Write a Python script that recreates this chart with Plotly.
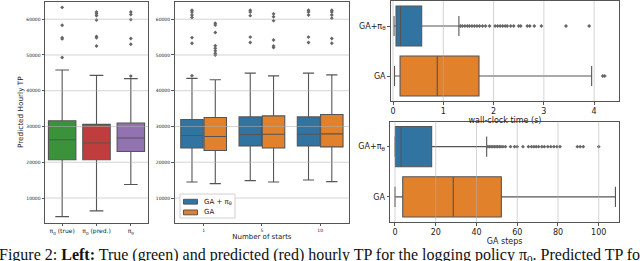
import plotly.graph_objects as go

# ---------------- data ----------------
# Panel 1: Predicted hourly TP per policy
p1_labels = ["π<sub>0</sub> (true)", "π<sub>0</sub> (pred.)", "π<sub>θ</sub>"]
p1_colors = ["#3a923a", "#c03d3e", "#9372b2"]
p1_q1 = [20700, 20700, 23000]
p1_med = [26300, 25400, 26800]
p1_q3 = [31600, 30600, 31000]
p1_lo = [4800, 6400, 13800]
p1_hi = [45800, 44300, 43400]
p1_out = [
    [63300, 58300, 54800, 54500, 49300],
    [62000, 61500, 61000, 59800, 55200, 54800, 52500],
    [62000, 61300, 59900, 54600, 53000, 44100],
]

# Panel 2: number of starts, GA + pi_theta vs GA
p2_starts = ["1", "5", "10"]
p2_names = ["GA + π<sub>θ</sub>", "GA"]
p2_colors = ["#3274a1", "#e1812c"]
p2_q1 = [[24000, 24570, 24570], [23280, 24000, 24290]]
p2_med = [[27480, 27760, 27840], [27200, 27840, 27930]]
p2_q3 = [[31960, 32690, 32690], [32520, 32970, 33340]]
p2_lo = [[14480, 14870, 15060], [14030, 14480, 14590]]
p2_hi = [[43470, 44930, 44930], [43080, 44170, 44450]]
p2_out = [
    [[62500, 62000, 61200, 60500, 54850, 53300, 44200],
     [62500, 62000, 61000, 55000, 53500],
     [62500, 62000, 61200, 55000, 53500]],
    [[58900, 58400, 56300, 52600, 51900, 51200, 50500, 50000],
     [61500, 60700, 59600, 54200, 52500, 52100],
     [62500, 62000, 61200, 60300, 54600, 53300]],
]

y_ticks = [10000, 20000, 30000, 40000, 50000, 60000]

# Panel 3: wall-clock time (s)
rt_labels = ["GA+π<sub>θ</sub>", "GA"]
p3_q1 = [0.06, 0.14]
p3_med = [0.15, 0.88]
p3_q3 = [0.57, 1.71]
p3_lo = [0.02, 0.03]
p3_hi = [1.31, 3.95]
p3_out = [
    [1.34, 1.38, 1.43, 1.48, 1.52, 1.57, 1.62, 1.67, 1.72, 1.78, 1.84, 1.92,
     2.03, 2.08, 2.13, 2.18, 2.23, 2.27, 2.34, 2.40, 2.50, 2.54, 2.67, 2.72,
     2.81, 2.95, 3.44, 3.90],
    [4.17, 4.21],
]
p3_ticks = [0, 1, 2, 3, 4]

# Panel 4: GA steps
p4_q1 = [0.2, 3.8]
p4_med = [3.0, 28.6]
p4_q3 = [18.0, 52.2]
p4_lo = [0.0, 0.0]
p4_hi = [45.0, 108.2]
p4_out = [
    [45.6, 46.4, 47.2, 48.0, 48.8, 49.6, 50.4, 51.2, 52.0, 53.0, 54.2, 56.7,
     58.7, 60.0, 62.8, 65.5, 67.0, 68.2, 69.3, 70.5, 72.1, 73.3, 75.0, 76.5,
     78.0, 79.5, 81.0, 89.5, 90.9, 92.4, 100.0],
    [],
]
p4_ticks = [0, 20, 40, 60, 80, 100]

caption = ("Figure 2: <b>Left:</b> True (green) and predicted (red) hourly TP for "
           "the logging policy π<sub>0</sub>. Predicted TP for")

# ---------------- style ----------------
GRAY = "#555555"
AXC = "#555555"
GRID = "rgba(176,176,176,0.55)"
FONT = "DejaVu Sans"
TXT = "#222222"
W, H = 640, 261


def px_x(a, b):
    return [a / W, b / W]


def px_y(top, bottom):
    return [1 - bottom / H, 1 - top / H]


fig = go.Figure()

flier = dict(symbol="diamond", size=3, color="#666666", line=dict(width=0))

# Panel 1
for i, lab in enumerate(p1_labels):
    fig.add_trace(go.Box(
        x=[i], q1=[p1_q1[i]], median=[p1_med[i]], q3=[p1_q3[i]],
        lowerfence=[p1_lo[i]], upperfence=[p1_hi[i]], width=0.8,
        fillcolor=p1_colors[i], line=dict(color=GRAY, width=1.1),
        whiskerwidth=0.5, boxpoints=False, showlegend=False,
        xaxis="x", yaxis="y"))
    fig.add_trace(go.Scatter(
        x=[i] * len(p1_out[i]), y=p1_out[i], mode="markers", marker=flier,
        showlegend=False, xaxis="x", yaxis="y", hoverinfo="skip"))

# Panel 2
offsets = [-0.2, 0.2]
for h, name in enumerate(p2_names):
    for c in range(len(p2_starts)):
        pos = c + offsets[h]
        fig.add_trace(go.Box(
            x=[pos], q1=[p2_q1[h][c]], median=[p2_med[h][c]], q3=[p2_q3[h][c]],
            lowerfence=[p2_lo[h][c]], upperfence=[p2_hi[h][c]], width=0.385,
            fillcolor=p2_colors[h], line=dict(color=GRAY, width=1.1),
            whiskerwidth=0.5, boxpoints=False, name=name,
            showlegend=False, xaxis="x2", yaxis="y2"))
        fig.add_trace(go.Scatter(
            x=[pos] * len(p2_out[h][c]), y=p2_out[h][c], mode="markers",
            marker=flier, showlegend=False, xaxis="x2", yaxis="y2",
            hoverinfo="skip"))

# Panel 3 (horizontal)
for i in range(len(rt_labels)):
    fig.add_trace(go.Box(
        y=[i], orientation="h", q1=[p3_q1[i]], median=[p3_med[i]], q3=[p3_q3[i]],
        lowerfence=[p3_lo[i]], upperfence=[p3_hi[i]], width=0.8,
        fillcolor=p2_colors[i], line=dict(color=GRAY, width=1.1),
        whiskerwidth=0.5, boxpoints=False, showlegend=False,
        xaxis="x3", yaxis="y3"))
    if p3_out[i]:
        fig.add_trace(go.Scatter(
            x=p3_out[i], y=[i] * len(p3_out[i]), mode="markers", marker=flier,
            showlegend=False, xaxis="x3", yaxis="y3", hoverinfo="skip"))

# Panel 4 (horizontal)
for i in range(len(rt_labels)):
    fig.add_trace(go.Box(
        y=[i], orientation="h", q1=[p4_q1[i]], median=[p4_med[i]], q3=[p4_q3[i]],
        lowerfence=[p4_lo[i]], upperfence=[p4_hi[i]], width=0.8,
        fillcolor=p2_colors[i], line=dict(color=GRAY, width=1.1),
        whiskerwidth=0.5, boxpoints=False, showlegend=False,
        xaxis="x4", yaxis="y4"))
    if p4_out[i]:
        fig.add_trace(go.Scatter(
            x=p4_out[i], y=[i] * len(p4_out[i]), mode="markers", marker=flier,
            showlegend=False, xaxis="x4", yaxis="y4", hoverinfo="skip"))

# gridlines drawn above box fills (matplotlib style)
shapes = []
for ax in ["", "2"]:
    for v in y_ticks:
        shapes.append(dict(type="line", xref=f"x{ax} domain", yref=f"y{ax}",
                           x0=0, x1=1, y0=v, y1=v, layer="above",
                           line=dict(color=GRID, width=1)))
for ax, ticks in [("3", p3_ticks), ("4", p4_ticks)]:
    for v in ticks:
        shapes.append(dict(type="line", yref=f"y{ax} domain", xref=f"x{ax}",
                           y0=0, y1=1, x0=v, x1=v, layer="above",
                           line=dict(color=GRID, width=1)))

# matplotlib-style legend inside panel 2 (frame, patches, labels)
LEG_X0, LEG_X1, LEG_Y0, LEG_Y1 = 180, 235, 194, 218
shapes.append(dict(type="rect", xref="paper", yref="paper",
                   x0=LEG_X0 / W, x1=LEG_X1 / W,
                   y0=1 - LEG_Y1 / H, y1=1 - LEG_Y0 / H, layer="above",
                   fillcolor="white", line=dict(color="#d0d0d0", width=1)))
annotations = []
for k, name in enumerate(p2_names):
    yc = 201.7 + k * 10.7
    shapes.append(dict(type="rect", xref="paper", yref="paper",
                       x0=183.5 / W, x1=197.5 / W,
                       y0=1 - (yc + 2.4) / H, y1=1 - (yc - 2.4) / H,
                       layer="above", fillcolor=p2_colors[k],
                       line=dict(color=GRAY, width=1)))
    annotations.append(dict(text=name, xref="paper", yref="paper",
                            x=201.5 / W, y=1 - yc / H, xanchor="left",
                            yanchor="middle", showarrow=False,
                            font=dict(size=7, family=FONT, color=TXT)))

annotations.append(dict(
    text=caption, xref="paper", yref="paper", x=-3 / W, y=1 - 244 / H,
    xanchor="left", yanchor="top", showarrow=False, align="left",
    font=dict(family="Liberation Serif", size=16, color="#111111")))

common = dict(showline=True, mirror=True, linecolor=AXC, linewidth=1,
              ticks="outside", ticklen=2.5, tickcolor=AXC, tickwidth=1,
              showgrid=False, zeroline=False, fixedrange=True)

fig.update_layout(
    template="none",
    width=W, height=H,
    margin=dict(l=0, r=0, t=0, b=0, pad=0),
    paper_bgcolor="white", plot_bgcolor="white",
    font=dict(family=FONT, color=TXT),
    shapes=shapes,
    annotations=annotations,
    showlegend=False,
    xaxis=dict(domain=px_x(45, 148), range=[-0.5, 2.5], tickvals=[0, 1, 2],
               ticktext=p1_labels, tickfont=dict(size=6, color=TXT),
               anchor="y", **common),
    yaxis=dict(domain=px_y(1.7, 222.7), range=[3100, 64900], tickvals=y_ticks,
               ticktext=[str(v) for v in y_ticks],
               tickfont=dict(size=4.5, color=TXT),
               title=dict(text="Predicted Hourly TP",
                          font=dict(size=7.3, color=TXT), standoff=1),
               anchor="x", **common),
    xaxis2=dict(domain=px_x(174.5, 349.3), range=[-0.5, 2.5],
                tickvals=[0, 1, 2], ticktext=p2_starts,
                tickfont=dict(size=4.5, color=TXT),
                title=dict(text="Number of starts",
                           font=dict(size=7, color=TXT), standoff=2),
                anchor="y2", **common),
    yaxis2=dict(domain=px_y(1.7, 222.7), range=[3100, 64900], tickvals=y_ticks,
                ticktext=[str(v) for v in y_ticks],
                tickfont=dict(size=4.5, color=TXT),
                anchor="x2", **common),
    xaxis3=dict(domain=px_x(390.7, 619.3), range=[-0.046, 4.5],
                tickvals=p3_ticks, tickfont=dict(size=8, color=TXT),
                title=dict(text="wall-clock time (s)",
                           font=dict(size=8, color=TXT), standoff=0),
                anchor="y3", **common),
    yaxis3=dict(domain=px_y(1, 101), range=[1.5, -0.5], tickvals=[0, 1],
                ticktext=rt_labels, tickfont=dict(size=8, color=TXT),
                anchor="x3", **common),
    xaxis4=dict(domain=px_x(390, 619.3), range=[-2.45, 110.1],
                tickvals=p4_ticks, tickfont=dict(size=8, color=TXT),
                title=dict(text="GA steps", font=dict(size=8, color=TXT),
                           standoff=0),
                anchor="y4", **common),
    yaxis4=dict(domain=px_y(121.5, 222), range=[1.5, -0.5], tickvals=[0, 1],
                ticktext=rt_labels, tickfont=dict(size=8, color=TXT),
                anchor="x4", **common),
)

fig.write_html(
    "out.html",
    config={"displayModeBar": False},
    post_script="document.body.style.margin='0';"
                "document.body.style.overflow='hidden';")
